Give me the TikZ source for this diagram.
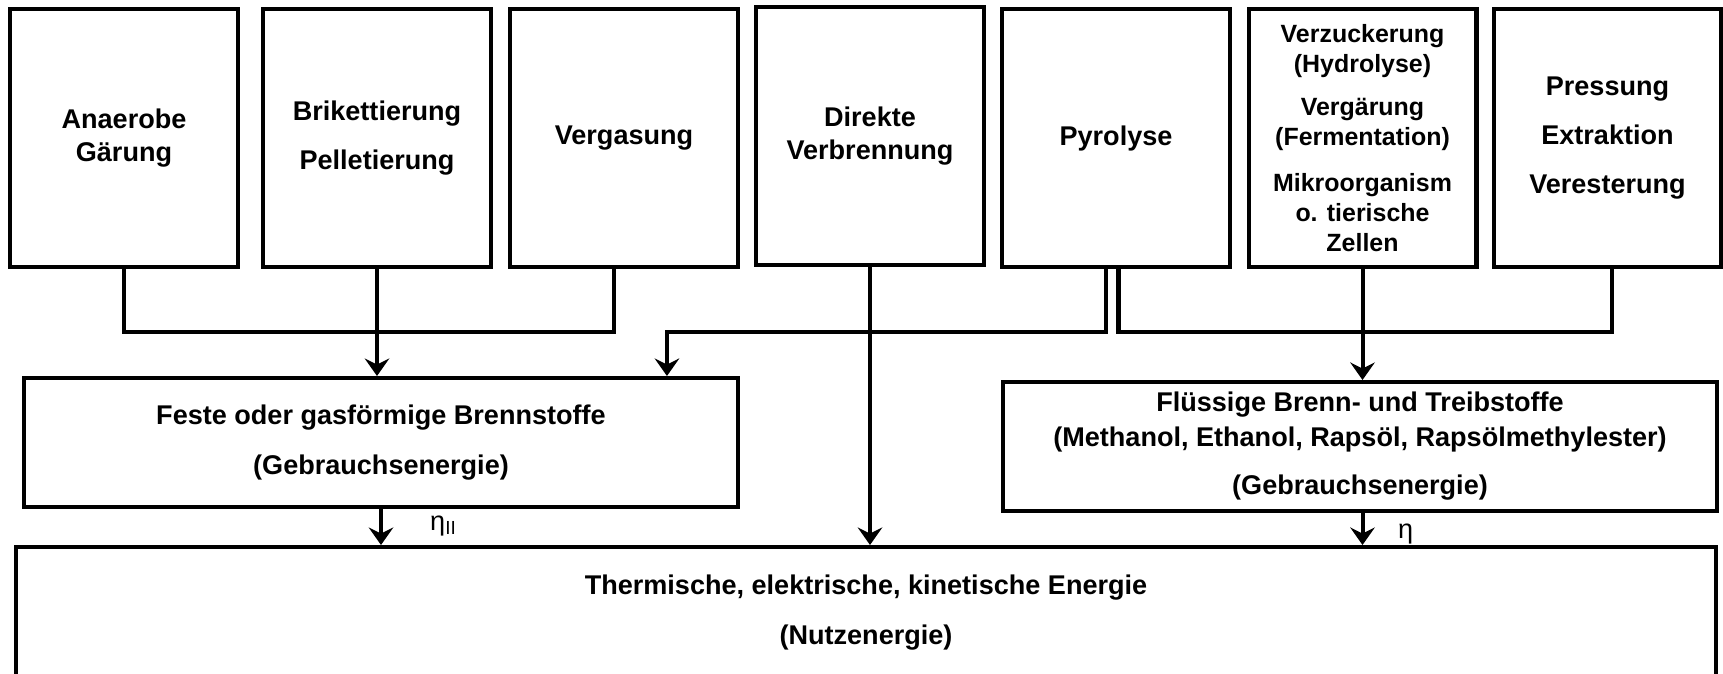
\documentclass[tikz,border=0pt]{standalone}
\usepackage{fontspec}
\setmainfont{Liberation Sans}
\usepackage{tikz}
\usetikzlibrary{arrows.meta,calc}

\tikzset{
	kasten/.style={draw, line width=2.3pt, align=center, inner sep=0pt,
		font=\bfseries\fontsize{15.4}{18.5}\selectfont},
	verfahren/.style={kasten, minimum width=4.56cm, minimum height=5.16cm},
	traeger/.style={kasten, minimum width=14.28cm, minimum height=2.58cm},
	fluss/.style={line width=2.3pt},
	pfeil/.style={fluss, -{Stealth[length=10pt,width=14pt,inset=3.5pt]}},
	wirkung/.style={anchor=base west, font=\fontsize{15.4}{18}\selectfont},
}

\begin{document}
\begin{tikzpicture}[x=0.02cm, y=-0.02cm]
			\useasboundingbox (0,0) rectangle (1723,673);
			\clip (0,0) rectangle (1723,673);
			% Verfahren
			\node[verfahren] (b1) at (124,138) {Anaerobe\\Gärung};
			\node[verfahren] (b2) at (377,138) {Brikettierung\\[9pt]Pelletierung};
			\node[verfahren] (b3) at (624,138) {Vergasung};
			\node[verfahren] (b4) at (870,136) {Direkte\\Verbrennung};
			\node[verfahren] (b5) at (1116,138) {Pyrolyse};
			\node[verfahren, font=\bfseries\fontsize{14.2}{17}\selectfont] (b6) at (1362.5,138)
				{Verzuckerung\\(Hydrolyse)\\[7.5pt]Vergärung\\(Fermentation)\\[9.5pt]Mikroorganism\\o. tierische\\Zellen};
			\node[verfahren] (b7) at (1607.5,138) {Pressung\\[9pt]Extraktion\\[9.5pt]Veresterung};
			% Energietraeger
			\node[traeger] (feste) at (381,442.5) {Feste oder gasförmige Brennstoffe\\[10pt](Gebrauchsenergie)};
			\node[traeger] (fl) at (1360,446.5) {Flüssige Brenn- und Treibstoffe\\[1.4pt](Methanol, Ethanol, Rapsöl, Rapsölmethylester)\\[8.8pt](Gebrauchsenergie)};
			\node[kasten, minimum width=34cm, minimum height=2.64cm] (nutz) at (866,613)
				{Thermische, elektrische, kinetische Energie\\[10pt](Nutzenergie)};
			% Sammelleitungen
			\coordinate (bus) at (0,332);
			\coordinate (s3) at ([xshift=-0.2cm]b3.south);
			\coordinate (p5l) at ([xshift=-0.2cm]b5.south);
			\coordinate (p5r) at ([xshift=0.05cm]b5.south);
			\coordinate (s7) at ([xshift=0.09cm]b7.south);
			\coordinate (zuF) at ([xshift=-1.46cm]feste.north east);
			\draw[fluss] (b1.south) |- (s3 |- bus) -- (s3);
			\draw[fluss] (p5r) |- (s7 |- bus) -- (s7);
			\draw[pfeil] (b2.south) -- (b2.south |- feste.north);
			\draw[pfeil] (p5l) |- (zuF |- bus) -- (zuF);
			\draw[pfeil] (b6.south) -- (b6.south |- fl.north);
			\draw[pfeil] (b4.south) -- (b4.south |- nutz.north);
			\draw[pfeil] (feste.south) -- (feste.south |- nutz.north);
			\draw[pfeil] (b6.south |- fl.south) -- (b6.south |- nutz.north);
			% Wirkungsgrade
			\node[wirkung] (etaII) at (424,530) {η\textsubscript{II}};
			\node[wirkung] (eta) at (1392,538) {η};
\end{tikzpicture}
\end{document}
